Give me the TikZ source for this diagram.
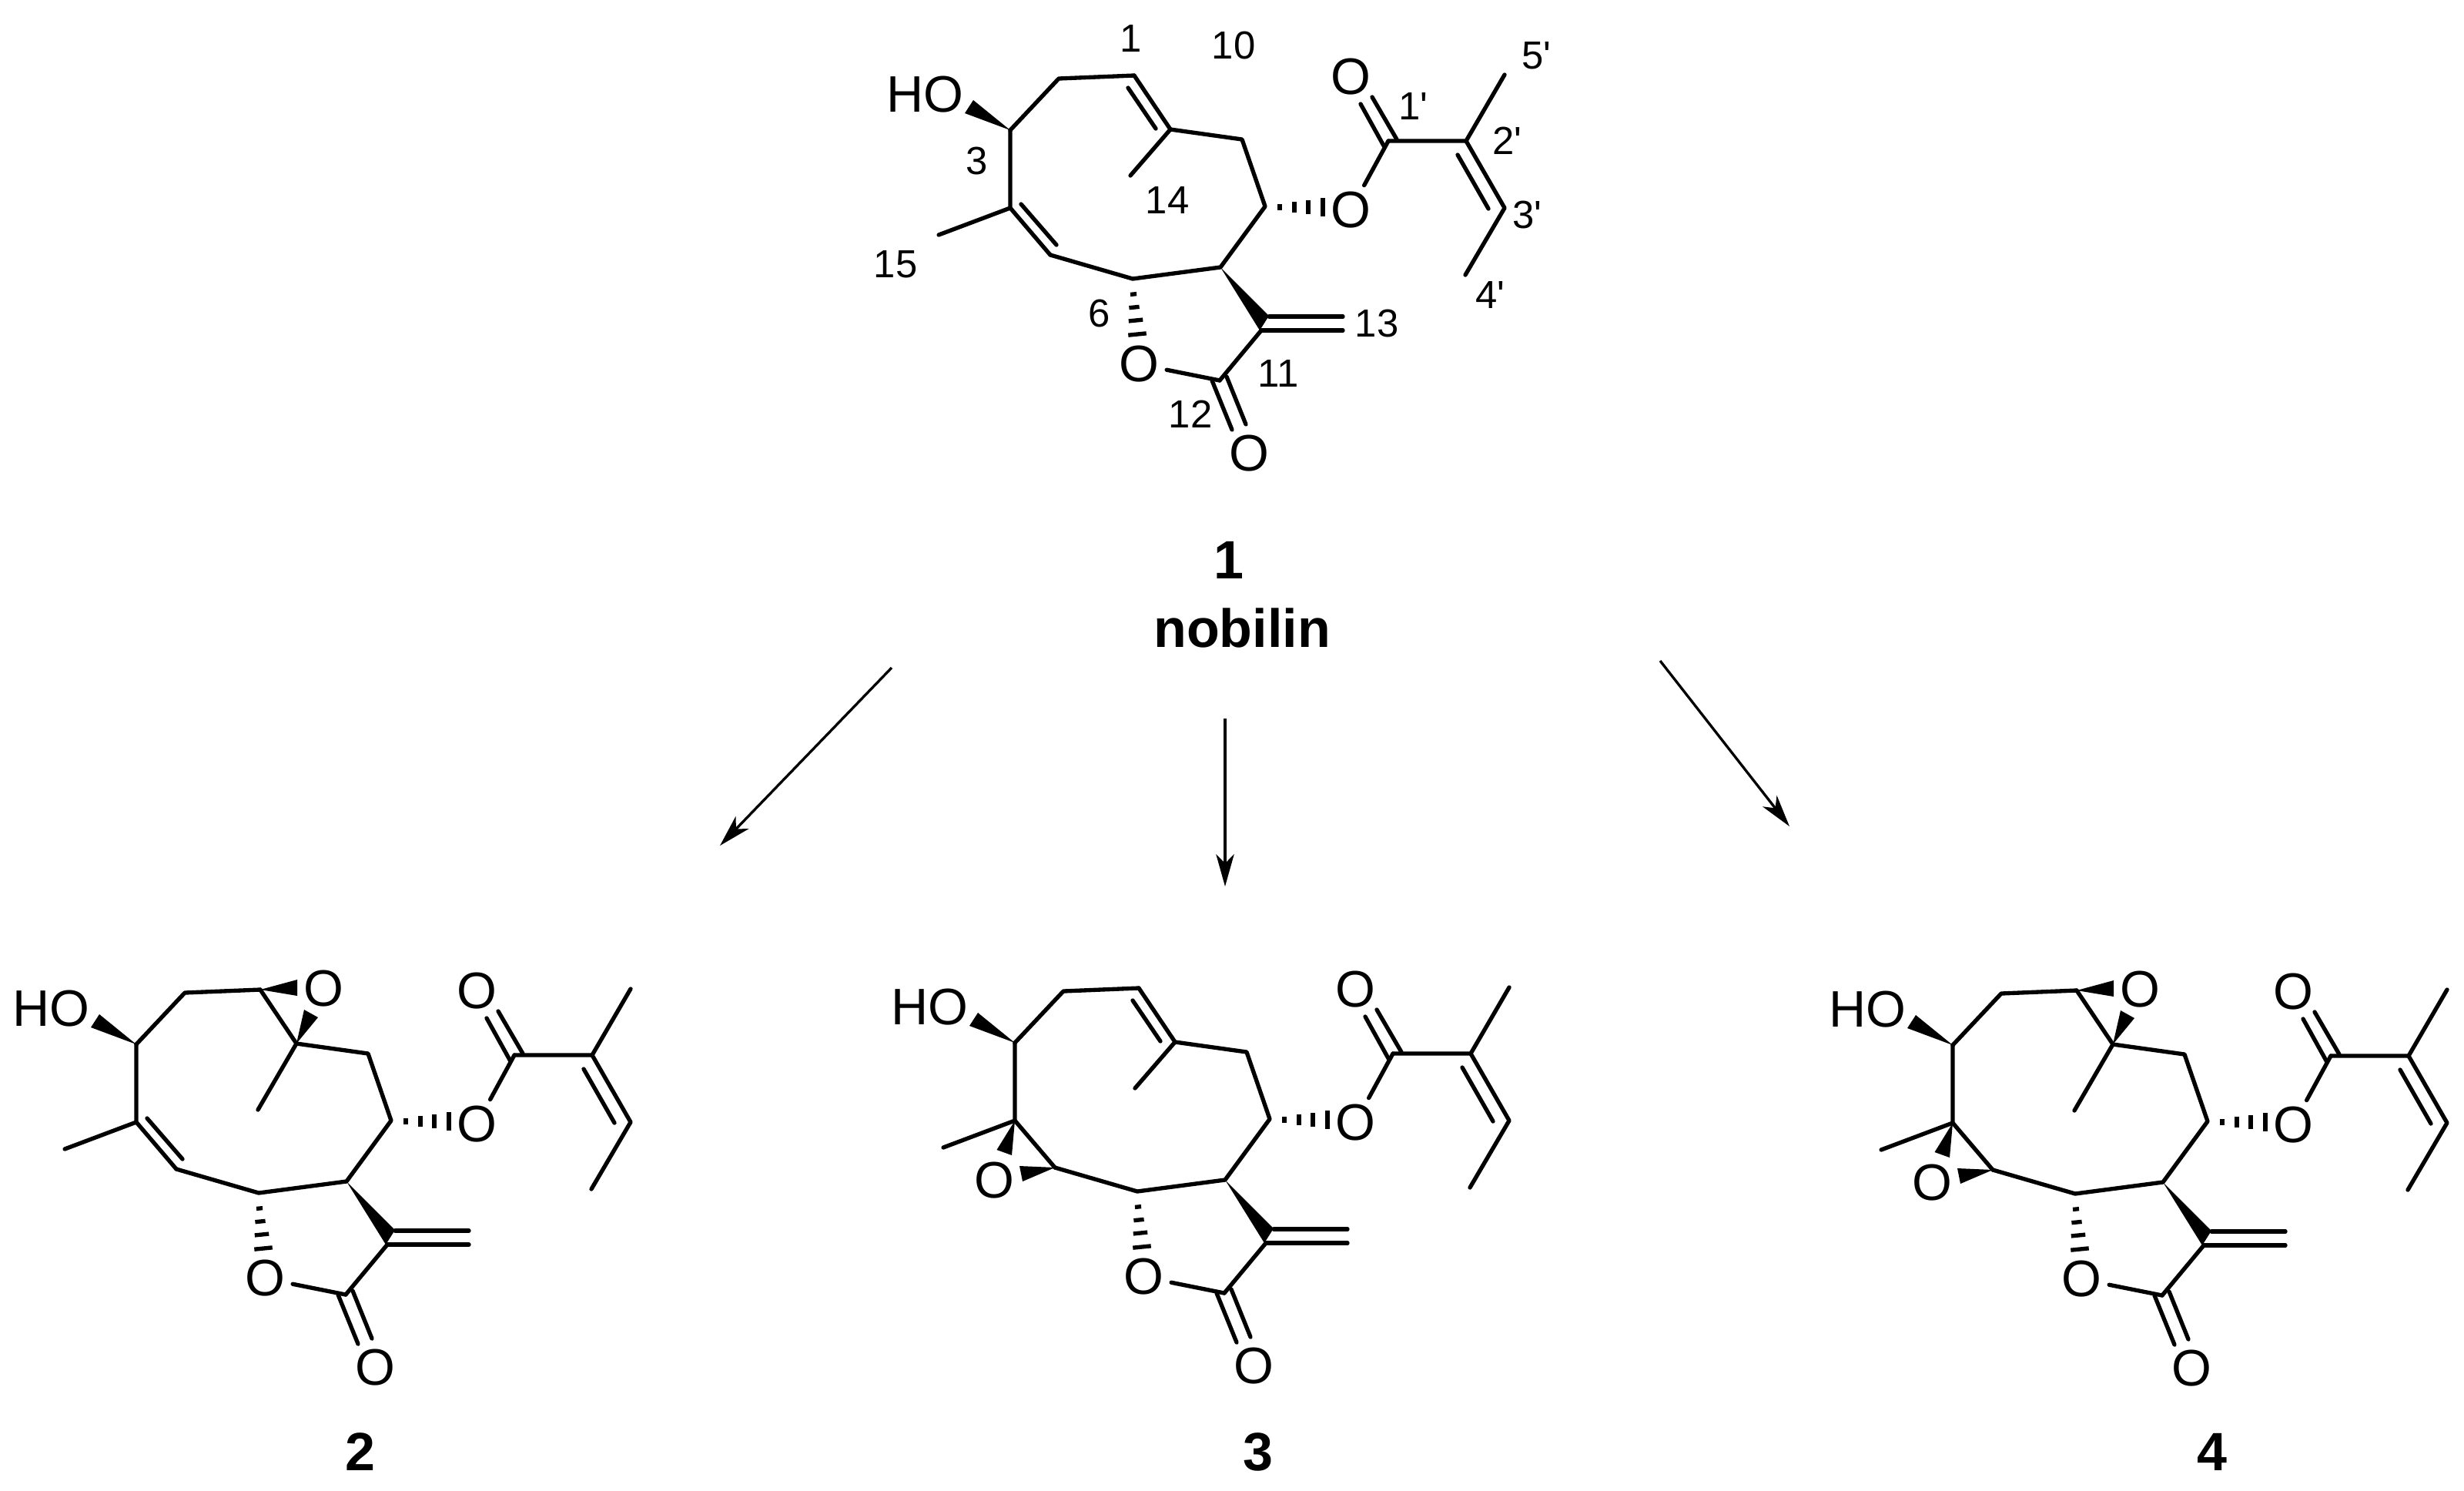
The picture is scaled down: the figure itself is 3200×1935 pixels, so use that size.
\documentclass[tikz,border=0pt]{standalone}
\usepackage{fontspec}
\setmainfont{Liberation Sans}
\newfontfamily\locantfont{Liberation Sans}
\usetikzlibrary{arrows.meta}
\tikzset{
  bond/.style={line width=1.28pt,line cap=round,line join=round},
  hashbar/.style={line width=1.28pt,line cap=butt},
  wedgebond/.style={fill=black,draw=none},
  reaction/.style={line width=0.8pt,-{Stealth[length=10pt,width=5.6pt,inset=2.8pt]}},
  atom/.style={circle,inner sep=0pt,minimum size=17.3pt,font=\fontsize{16}{16}\selectfont},
  hydroxyl/.style={inner sep=0pt,font=\fontsize{16}{16}\selectfont},
  locant/.style={inner sep=0pt,font=\locantfont\fontsize{12.2}{12.2}\selectfont},
  compound/.style={inner sep=0pt,font=\fontsize{16.8}{16.8}\selectfont\bfseries},
}
% everything that the four molecules share, in the frame of molecule 2
\newcommand{\molcore}{%
  \coordinate (C3) at (177,1356);
  \coordinate (C2) at (240,1289);
  \coordinate (C1) at (338,1285);
  \coordinate (C10) at (385,1355);
  \coordinate (C9) at (478,1368);
  \coordinate (C8) at (508,1455);
  \coordinate (C7) at (450,1534);
  \coordinate (C6) at (336,1549);
  \coordinate (C5) at (229,1518);
  \coordinate (C4) at (177,1457);
  \coordinate (Me15) at (84,1492);
  \coordinate (C11) at (503,1616);
  \coordinate (C12) at (449,1681);
  \coordinate (Cpa) at (668,1370);
  \coordinate (Cpb) at (769,1370);
  \coordinate (Cpc) at (819,1457);
  \coordinate (Cpd) at (768,1544);
  \coordinate (Cpe) at (819,1284);
  \node[hydroxyl] (HO) at (66,1310) {HO};
  \node[atom] (Oring) at (344,1660) {O};
  \node[atom] (Ocarb) at (487,1776) {O};
  \node[atom] (Oest) at (619,1460) {O};
  \node[atom] (Oacyl) at (619,1287) {O};
  \draw[bond] (C3) -- (C2) -- (C1);
  \draw[bond] (C10) -- (C9) -- (C8) -- (C7) -- (C6) -- (C5);
  \draw[bond] (C3) -- (C4) -- (Me15);
  \draw[bond] (C12) -- (C11);
  \draw[bond] (C12) -- (Oring);
  % exocyclic methylene
  \coordinate (Cha) at (513,1598);
  \coordinate (Chb) at (609,1598);
  \coordinate (Chc) at (609,1616);
  \draw[bond] (Cha) -- (Chb);
  \draw[bond] (C11) -- (Chc);
  \coordinate (Wa) at (513,1597);
  \coordinate (Wb) at (501,1616);
  \fill[wedgebond] (C7) -- (Wa) -- (Wb) -- cycle;
  % lactone C=O
  \coordinate (La) at (439,1681);
  \coordinate (Lb) at (465,1745);
  \coordinate (Lc) at (458,1676);
  \coordinate (Ld) at (483,1738);
  \draw[bond] (La) -- (Lb);
  \draw[bond] (Lc) -- (Ld);
  % hydroxyl wedge
  \coordinate (Ha) at (118,1334);
  \coordinate (Hb) at (129,1317);
  \fill[wedgebond] (C3) -- (Ha) -- (Hb) -- cycle;
  % hashed bonds
  \foreach \x/\y/\h in {527/1456/3.7,546/1456/7,564/1456/9.4,583/1456/11.8}
    \draw[hashbar] (\x,\y-\h) -- (\x,\y+\h);
  \foreach \x/\y/\h in {337/1569/4,338/1586/6.6,340/1603/9.2,342/1621/11.7}
    \draw[hashbar] (\x-\h,\y+0.1*\h) -- (\x+\h,\y-0.1*\h);
  % ester side chain
  \draw[bond] (Cpa) -- (Oest);
  \draw[bond] (Cpa) -- (Cpb) -- (Cpe);
  \draw[bond] (Cpb) -- (Cpc) -- (Cpd);
  \coordinate (Aa) at (632,1322);
  \coordinate (Ab) at (663,1378);
  \coordinate (Ac) at (647,1313);
  \coordinate (Ad) at (679,1368);
  \draw[bond] (Aa) -- (Ab);
  \draw[bond] (Ac) -- (Ad);
  \coordinate (Ba) at (758,1388);
  \coordinate (Bb) at (798,1458);
  \draw[bond] (Ba) -- (Bb);
}
% C1=C10 alkene
\newcommand{\alkeneA}{%
  \coordinate (Me14) at (333,1415);
  \coordinate (Da) at (330,1301);
  \coordinate (Db) at (366,1354);
  \draw[bond] (C1) -- (C10) -- (Me14);
  \draw[bond] (Da) -- (Db);
}
% C1-C10 epoxide
\newcommand{\epoxideA}{%
  \coordinate (Me14) at (335,1441);
  \node[atom] (Oea) at (420,1284) {O};
  \coordinate (Ea) at (386,1272);
  \coordinate (Eb) at (386,1293);
  \coordinate (Ec) at (395,1311);
  \coordinate (Ed) at (413,1321);
  \draw[bond] (C1) -- (C10) -- (Me14);
  \fill[wedgebond] (C1) -- (Ea) -- (Eb) -- cycle;
  \fill[wedgebond] (C10) -- (Ec) -- (Ed) -- cycle;
}
% C4=C5 alkene
\newcommand{\alkeneB}{%
  \coordinate (Fa) at (191,1452);
  \coordinate (Fb) at (237,1505);
  \draw[bond] (C4) -- (C5);
  \draw[bond] (Fa) -- (Fb);
}
% C4-C5 epoxide
\newcommand{\epoxideB}{%
  \node[atom] (Oeb) at (150,1535) {O};
  \coordinate (Ga) at (153.5,1495);
  \coordinate (Gb) at (173,1502);
  \coordinate (Gc) at (183,1516);
  \coordinate (Gd) at (187,1536);
  \draw[bond] (C4) -- (C5);
  \fill[wedgebond] (C4) -- (Ga) -- (Gb) -- cycle;
  \fill[wedgebond] (C5) -- (Gc) -- (Gd) -- cycle;
}
\begin{document}
\begin{tikzpicture}[x=0.24pt,y=-0.24pt]
  \useasboundingbox (0,0) rectangle (3200,1935);
  \begin{scope}[shift={(1135,-1187)},name prefix=a-]
    \molcore \alkeneA \alkeneB
  \end{scope}
  \begin{scope}[name prefix=b-]
    \molcore \epoxideA \alkeneB
  \end{scope}
  \begin{scope}[shift={(1141,-2)},name prefix=c-]
    \molcore \alkeneA \epoxideB
  \end{scope}
  \begin{scope}[shift={(2359,1)},name prefix=d-]
    \molcore \epoxideA \epoxideB
  \end{scope}
  % locants of molecule 1
  \node[locant] (l1) at (1469,50) {1};
  \node[locant] (l10) at (1602,59) {10};
  \node[locant] (l3) at (1269,209) {3};
  \node[locant] (l14) at (1516,260) {14};
  \node[locant] (l15) at (1163,343) {15};
  \node[locant] (l6) at (1428,407) {6};
  \node[locant] (l13) at (1788,420) {13};
  \node[locant] (l11) at (1660,485) {11};
  \node[locant] (l12) at (1546,538) {12};
  \node[locant] (l1p) at (1835,138) {1'};
  \node[locant] (l2p) at (1957,183) {2'};
  \node[locant] (l3p) at (1983,279) {3'};
  \node[locant] (l4p) at (1935,383) {4'};
  \node[locant] (l5p) at (1995,72) {5'};
  % compound labels
  \node[compound] (n1) at (1596,727) {1};
  \node[compound] (nob) at (1613,815) {nobilin};
  \node[compound] (n2) at (468,1885) {2};
  \node[compound] (n3) at (1634,1885) {3};
  \node[compound] (n4) at (2873,1885) {4};
  % reaction arrows
  \coordinate (ra) at (1158,867);
  \coordinate (rb) at (935,1098);
  \coordinate (rc) at (1591,933);
  \coordinate (rd) at (1591,1151);
  \coordinate (re) at (2156,858);
  \coordinate (rf) at (2324,1073);
  \draw[reaction] (ra) -- (rb);
  \draw[reaction] (rc) -- (rd);
  \draw[reaction] (re) -- (rf);
\end{tikzpicture}
\end{document}
